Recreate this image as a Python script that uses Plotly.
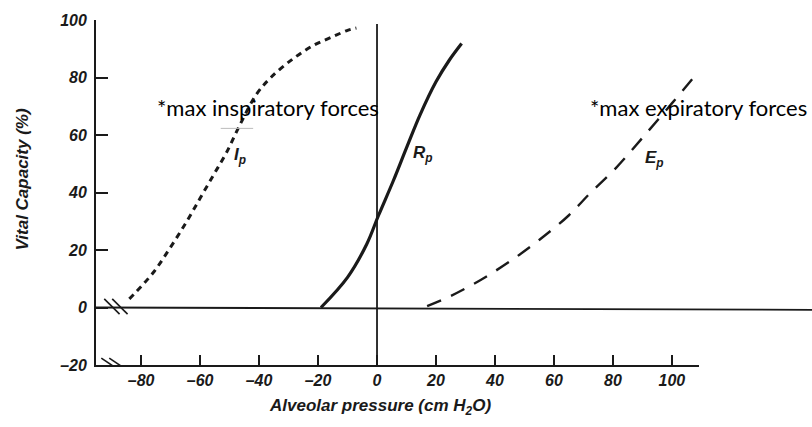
import plotly.graph_objects as go

# ---- data ----
ip_x = [-84, -76, -70, -64.5, -60, -55.5, -51, -46.5, -41, -36, -28.5, -21.5, -15, -10, -7]
ip_y = [3, 12, 21, 30, 38, 46, 54, 63.5, 74, 80, 86.5, 91.2, 94.2, 96.4, 97.2]

rp_x = [-19, -10, -3.5, 0.5, 5.5, 10, 14.6, 20, 24.5, 28.7]
rp_y = [0, 10.5, 22, 32, 44, 55.5, 67, 78.5, 86, 91.8]

ep_x = [17, 25, 35, 45, 55, 65, 72, 81, 90, 100, 109]
ep_y = [0.5, 4, 9.5, 16, 23.5, 32, 39.5, 48.5, 59, 71, 82]

x_ticks = [-80, -60, -40, -20, 0, 20, 40, 60, 80, 100]
x_tick_text = ["–80", "–60", "–40", "–20", "0", "20", "40", "60", "80", "100"]
y_ticks = [-20, 0, 20, 40, 60, 80, 100]
y_tick_text = ["–20", "0", "20", "40", "60", "80", "100"]

x_range = [-95.3, 109.2]
y_range = [-20, 100]

ink = "#1a1a1a"
tick_font = dict(family="Liberation Sans, Arial", size=16, color=ink, weight="bold", style="italic")

fig = go.Figure()
fig.add_trace(go.Scatter(x=ip_x, y=ip_y, mode="lines", line=dict(color=ink, width=3, dash="6px,5px", shape="spline"),
                         showlegend=False, hoverinfo="skip"))
fig.add_trace(go.Scatter(x=rp_x, y=rp_y, mode="lines", line=dict(color=ink, width=3.2, shape="spline"),
                         showlegend=False, hoverinfo="skip"))
fig.add_trace(go.Scatter(x=ep_x, y=ep_y, mode="lines", line=dict(color=ink, width=2.4, dash="15px,11px", shape="spline"),
                         showlegend=False, hoverinfo="skip"))

shapes = [
    # zero (baseline) line, running to the right edge of the picture
    dict(type="line", xref="paper", yref="y", x0=0, x1=1.19, y0=0, y1=-0.8, line=dict(color=ink, width=1.8)),
    # vertical line at 0 cm H2O
    dict(type="line", xref="x", yref="y", x0=0, x1=0, y0=-20, y1=98.6, line=dict(color=ink, width=1.8)),
    # axis breaks on the baseline
    dict(type="line", xref="x", yref="y", x0=-92.5, x1=-87.3, y0=3.0, y1=-2.3, line=dict(color=ink, width=1.6)),
    dict(type="line", xref="x", yref="y", x0=-89.8, x1=-84.6, y0=3.0, y1=-2.3, line=dict(color=ink, width=1.6)),
    # axis breaks on the x axis
    dict(type="line", xref="x", yref="y", x0=-93.5, x1=-88.3, y0=-17.6, y1=-21.2, line=dict(color=ink, width=1.6)),
    dict(type="line", xref="x", yref="y", x0=-90.8, x1=-85.6, y0=-17.6, y1=-21.2, line=dict(color=ink, width=1.6)),
    # faint mark near Ip
    dict(type="line", xref="x", yref="y", x0=-53, x1=-42, y0=62.3, y1=62.3, line=dict(color="#bbbbbb", width=1)),
]

curve_label_font = dict(family="Liberation Sans, Arial", size=17, color=ink, weight="bold", style="italic")
note_font = dict(family="Lato, Open Sans", size=22, color="#000000")
title_font = dict(family="Liberation Sans, Arial", size=17, color=ink, weight="bold", style="italic")

annotations = [
    dict(x=-75.3, y=69.6, xref="x", yref="y", text="*max inspiratory forces", showarrow=False,
         xanchor="left", yanchor="middle", font=note_font),
    dict(x=71.5, y=69.5, xref="x", yref="y", text="*max expiratory forces", showarrow=False,
         xanchor="left", yanchor="middle", font=note_font),
    dict(x=-46.4, y=52.6, xref="x", yref="y", text="I<sub>p</sub>", showarrow=False, font=curve_label_font),
    dict(x=15.6, y=53.3, xref="x", yref="y", text="R<sub>p</sub>", showarrow=False, font=curve_label_font),
    dict(x=94.2, y=51.6, xref="x", yref="y", text="E<sub>p</sub>", showarrow=False, font=curve_label_font),
    dict(x=-0.1227, y=0.538, xref="paper", yref="paper", text="Vital Capacity (%)", textangle=-90, showarrow=False,
         xanchor="center", yanchor="middle", font=title_font),
    dict(x=1, y=-0.121, xref="x", yref="paper", text="Alveolar pressure (cm H<sub>2</sub>O)", showarrow=False,
         xanchor="center", yanchor="middle", font=title_font),
]

fig.update_layout(
    width=812, height=427,
    margin=dict(l=96, r=113, t=18, b=62),
    paper_bgcolor="white", plot_bgcolor="white",
    shapes=shapes, annotations=annotations,
    xaxis=dict(range=x_range, tickvals=x_ticks, ticktext=x_tick_text, ticks="inside", ticklen=10,
               tickwidth=1.6, tickcolor=ink, showline=True, linecolor=ink, linewidth=1.8,
               showgrid=False, zeroline=False, tickfont=tick_font, fixedrange=True),
    yaxis=dict(range=y_range, tickvals=y_ticks, ticktext=y_tick_text, ticks="inside", ticklen=12,
               tickwidth=1.6, tickcolor=ink, showline=True, linecolor=ink, linewidth=1.8,
               showgrid=False, zeroline=False, tickfont=tick_font, fixedrange=True, ticklabelstandoff=4),
)

fig.write_html("out.html", config={"displayModeBar": False},
               post_script="document.body.style.margin='0';document.body.style.overflow='hidden';")
